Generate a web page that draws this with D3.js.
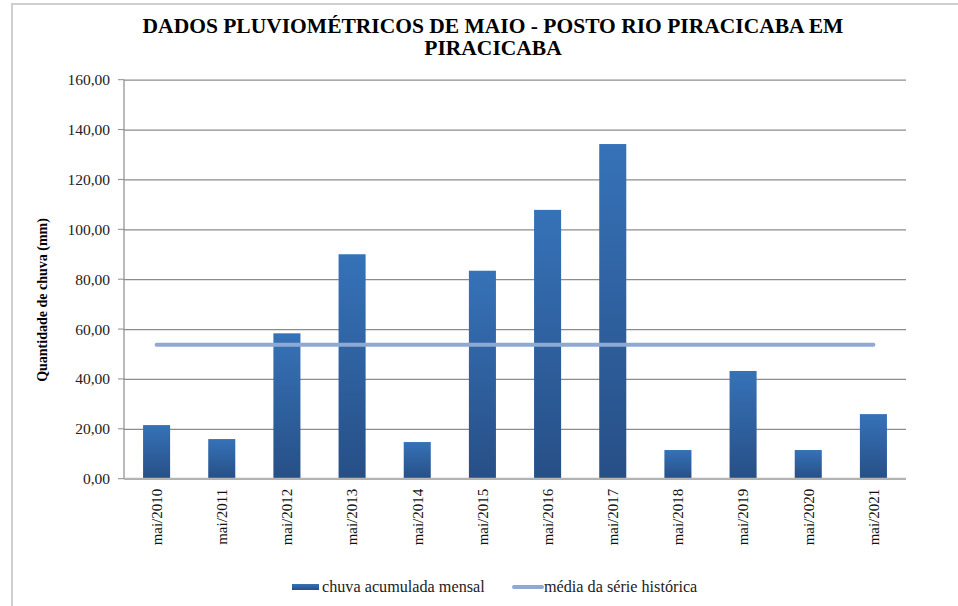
<!DOCTYPE html>
<html><head><meta charset="utf-8">
<script src="https://cdn.jsdelivr.net/npm/d3@7/dist/d3.min.js"></script>
<style>body{margin:0;background:#fff}svg{display:block}</style>
</head><body><svg id="c" width="958" height="606"></svg>
<script>
const categories = ["mai/2010","mai/2011","mai/2012","mai/2013","mai/2014","mai/2015","mai/2016","mai/2017","mai/2018","mai/2019","mai/2020","mai/2021"];
const rainfall = [21.5, 15.9, 58.3, 90.0, 14.7, 83.4, 107.8, 134.2, 11.5, 43.2, 11.5, 25.9];
const historicMean = [53.7, 53.7, 53.7, 53.7, 53.7, 53.7, 53.7, 53.7, 53.7, 53.7, 53.7, 53.7];
const yTicks = [0, 20, 40, 60, 80, 100, 120, 140, 160];
const titleLines = ["DADOS PLUVIOMÉTRICOS DE MAIO - POSTO RIO PIRACICABA EM", "PIRACICABA"];
const yTitle = "Quantidade de chuva (mm)";
const legendLabels = ["chuva acumulada mensal", "média da série histórica"];

const FONT = "Liberation Serif";
const svg = d3.select("#c");
const m = {left:124, right:906, top:79.7, bottom:478.7};
const x = d3.scaleBand().domain(categories).range([m.left, m.right]).paddingInner(0.585).paddingOuter(0.2925);
const y = d3.scaleLinear().domain([0,160]).range([m.bottom, m.top]);
const fmt = v => d3.format(".2f")(v).replace(".", ",");

svg.append("path").attr("d","M12,606 V4 H958").attr("fill","none").attr("stroke","#cfcfcf").attr("stroke-width",2);

const defs = svg.append("defs");
const g = defs.append("linearGradient").attr("id","bg").attr("x1",0).attr("y1",0).attr("x2",0).attr("y2",1);
g.append("stop").attr("offset","0%").attr("stop-color","#3672b8");
g.append("stop").attr("offset","100%").attr("stop-color","#274f86");

const title = svg.append("text").attr("text-anchor","middle").attr("font-weight","bold").attr("font-size",21.5).attr("font-family",FONT).attr("fill","#000");
title.selectAll("tspan").data(titleLines).join("tspan").attr("x",493).attr("y",(d,i)=>33+i*22).text(d=>d);

const yAxis = d3.axisLeft(y).tickValues(yTicks).tickFormat(fmt).tickSize(-(m.right-m.left)).tickPadding(14);
const ya = svg.append("g").attr("transform",`translate(${m.left},0)`).call(yAxis);
ya.attr("font-family",FONT);
ya.select(".domain").remove();
ya.selectAll(".tick line").attr("stroke","#8c8c8c").attr("stroke-width",1.2);
ya.selectAll(".tick text").attr("font-size",15.5).attr("fill","#222");
svg.append("line").attr("x1",m.left).attr("x2",m.left).attr("y1",m.top).attr("y2",m.bottom).attr("stroke","#8c8c8c").attr("stroke-width",1.2);
svg.selectAll(".yt").data(yTicks).join("line").attr("x1",m.left-6).attr("x2",m.left).attr("y1",d=>y(d)).attr("y2",d=>y(d)).attr("stroke","#8c8c8c");

svg.append("g").selectAll("rect").data(rainfall).join("rect")
  .attr("x",(d,i)=>x(categories[i])).attr("width",x.bandwidth())
  .attr("y",d=>y(d)).attr("height",d=>y(0)-y(d)).attr("fill","url(#bg)");

const xa = svg.append("g").attr("transform",`translate(0,${m.bottom})`).call(d3.axisBottom(x).tickSize(0));
xa.attr("font-family",FONT);
xa.select(".domain").attr("stroke","#b5b5b5").attr("stroke-width",2).attr("d",`M${m.left},0H${m.right}`);
xa.selectAll(".tick text").attr("font-size",15).attr("fill","#111")
  .attr("transform","rotate(-90)").attr("text-anchor","end").attr("dx","-10").attr("dy","0.35em").attr("y",0).attr("x",0);

const line = d3.line().x((d,i)=>x(categories[i])+x.bandwidth()/2).y(d=>y(d));
svg.append("path").datum(historicMean).attr("d",line).attr("fill","none").attr("stroke","#8eaad2").attr("stroke-width",4).attr("stroke-linecap","round");

svg.append("text").attr("transform","translate(47,300) rotate(-90)").attr("text-anchor","middle").attr("font-family",FONT)
  .attr("font-weight","bold").attr("font-size",14).text(yTitle);

svg.append("rect").attr("x",292).attr("y",584).attr("width",27).attr("height",6).attr("fill","url(#bg)");
svg.append("text").attr("x",322).attr("y",592).attr("font-size",16.2).attr("fill","#222").attr("font-family",FONT).text(legendLabels[0]);
svg.append("line").attr("x1",514).attr("x2",542).attr("y1",587).attr("y2",587).attr("stroke","#8eaad2").attr("stroke-width",4).attr("stroke-linecap","round");
svg.append("text").attr("x",544).attr("y",592).attr("font-size",16.2).attr("fill","#222").attr("font-family",FONT).text(legendLabels[1]);
</script></body></html>
